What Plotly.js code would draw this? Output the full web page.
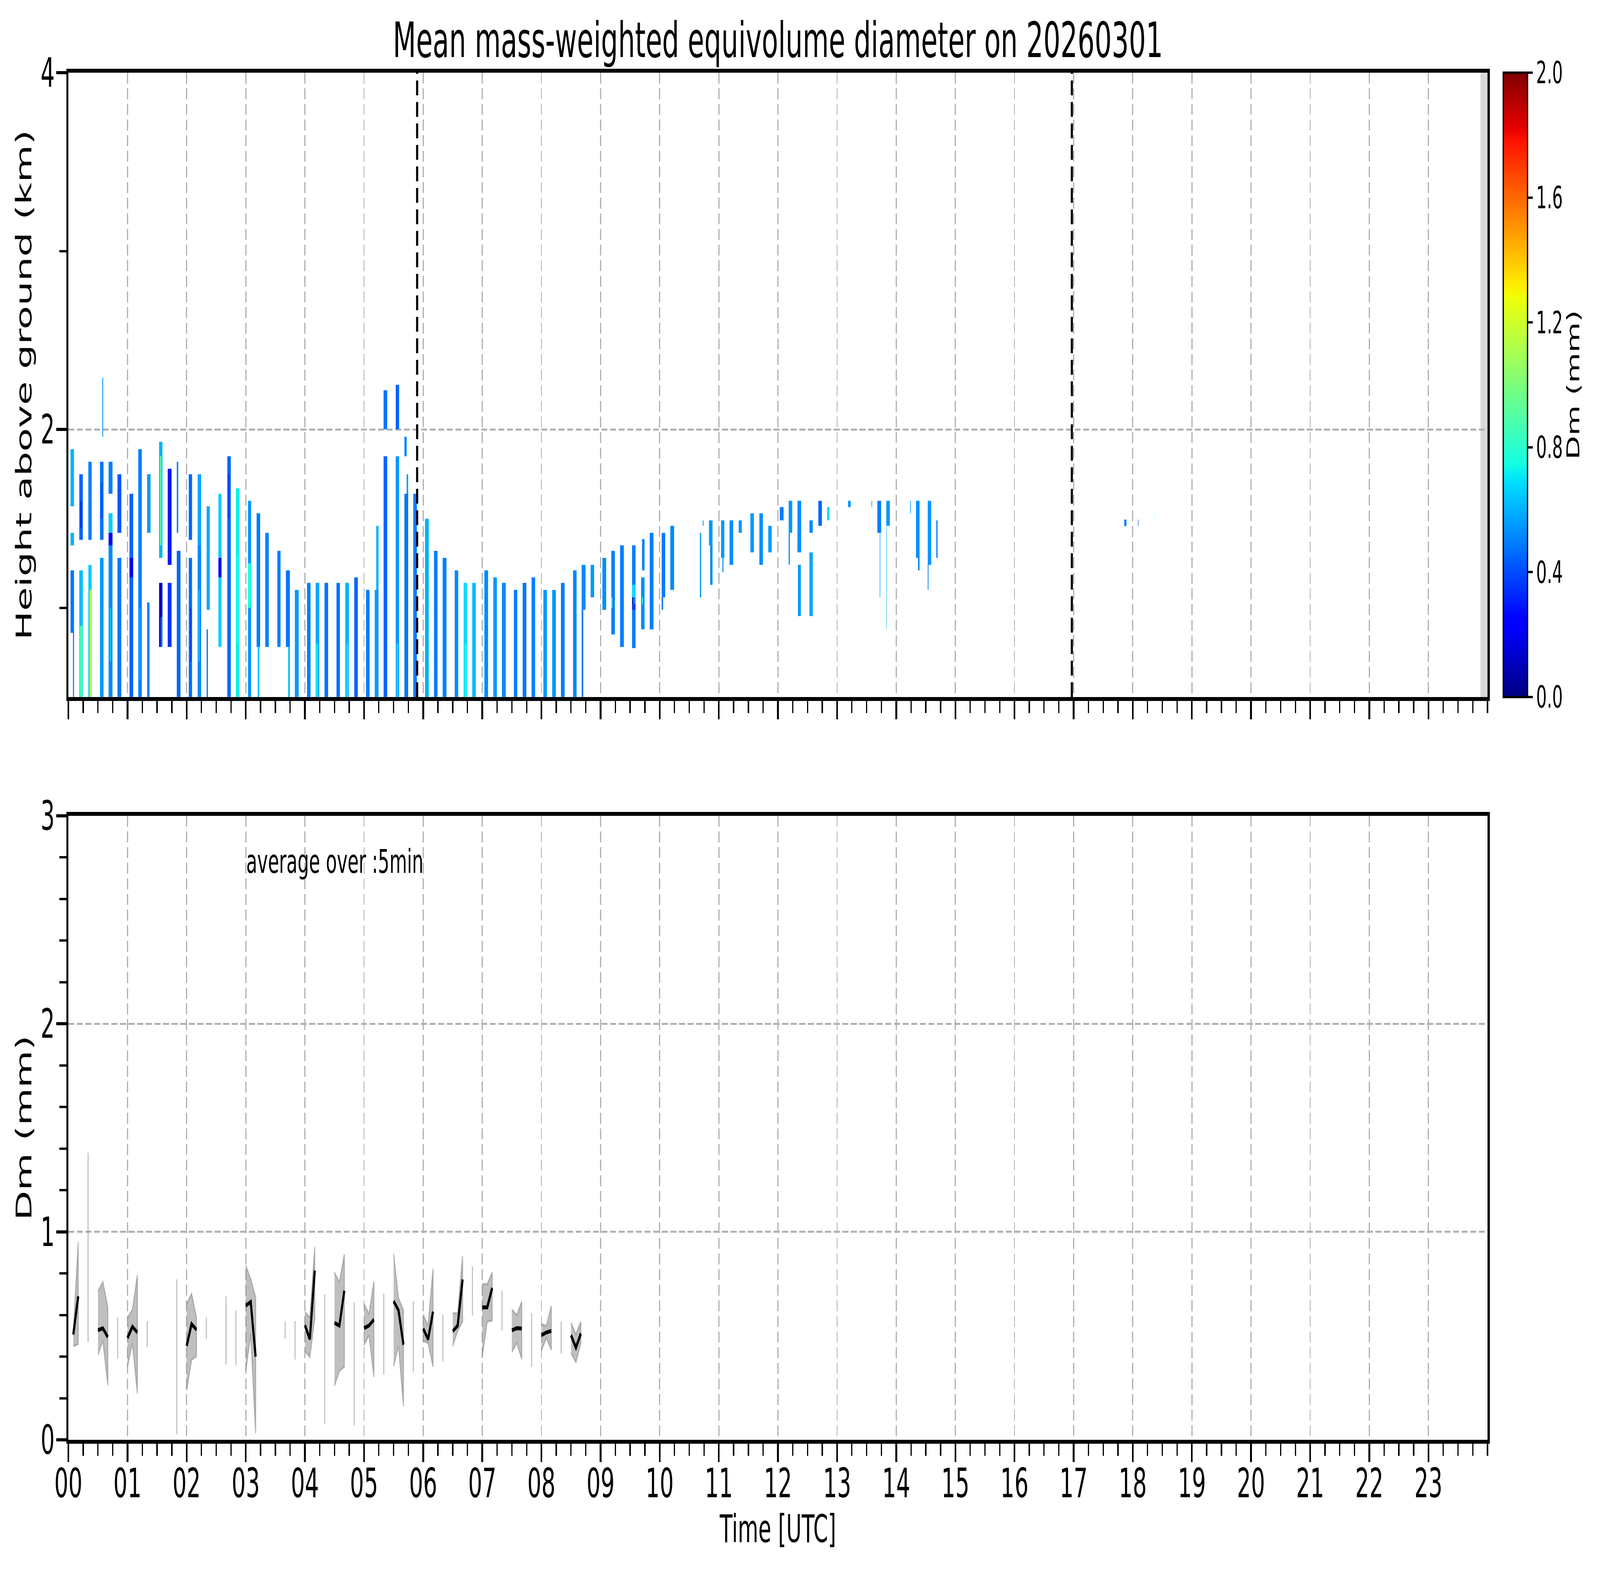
<!DOCTYPE html>
<html>
<head>
<meta charset="utf-8">
<script src="https://cdn.plot.ly/plotly-3.0.1.min.js"></script>
<style>
  html, body { margin: 0; padding: 0; background: #fff; overflow: hidden; }
  #chart { width: 7442px; height: 4031px; transform-origin: 0 0; }
</style>
</head>
<body>
<div id="chart"></div>
<script>
// radar echoes: [start (h UTC), end (h UTC), bottom (km), top (km), Dm (mm)]
const echoes00to03 = [
  [0.037, 0.096, 1.57, 1.89, 0.6], [0.037, 0.096, 1.35, 1.42, 0.6], [0.037, 0.096, 0.86, 1.21, 0.48], [0.078, 0.096, 0.5, 0.86, 0.45],
  [0.186, 0.245, 1.38, 1.75, 0.45], [0.186, 0.245, 0.5, 1.21, 0.62],
  [0.337, 0.394, 1.38, 1.82, 0.5], [0.337, 0.394, 0.5, 1.24, 0.65],
  [0.535, 0.592, 1.38, 1.82, 0.48], [0.535, 0.592, 0.5, 1.28, 0.55], [0.576, 0.59, 1.96, 2.29, 0.55],
  [0.68, 0.745, 1.64, 1.82, 0.5], [0.68, 0.745, 1.42, 1.53, 0.65], [0.68, 0.745, 1.35, 1.42, 0.25], [0.68, 0.745, 0.5, 1.35, 0.52],
  [0.829, 0.894, 1.42, 1.75, 0.42], [0.829, 0.894, 0.5, 1.28, 0.48],
  [1.033, 1.094, 0.5, 1.64, 0.45],
  [1.184, 1.241, 0.5, 1.89, 0.5],
  [1.33, 1.39, 1.42, 1.75, 0.55], [1.33, 1.37, 0.5, 1.03, 0.5],
  [1.535, 1.59, 1.28, 1.93, 0.6], [1.535, 1.59, 0.78, 1.14, 0.1],
  [1.68, 1.745, 1.24, 1.78, 0.3], [1.68, 1.745, 0.78, 1.14, 0.35],
  [1.833, 1.86, 1.42, 1.82, 0.5], [1.833, 1.894, 0.5, 1.32, 0.45],
  [2.037, 2.092, 1.38, 1.75, 0.45], [2.037, 2.092, 0.5, 1.28, 0.47],
  [2.184, 2.245, 1.32, 1.75, 0.58], [2.184, 2.245, 0.5, 1.35, 0.52],
  [2.337, 2.39, 0.99, 1.57, 0.58], [2.337, 2.36, 0.5, 0.88, 0.48],
  [2.537, 2.59, 0.78, 1.64, 0.65],
  [2.686, 2.745, 0.5, 1.85, 0.45],
  [2.833, 2.894, 0.5, 1.67, 0.72],
  [3.035, 3.092, 0.5, 1.6, 0.55]
];

const echoes03to06 = [
  [3.181, 3.242, 0.78, 1.53, 0.5], [3.2, 3.23, 0.5, 0.78, 0.65],
  [3.33, 3.391, 0.78, 1.42, 0.5],
  [3.534, 3.591, 0.78, 1.32, 0.5],
  [3.681, 3.746, 0.78, 1.21, 0.48], [3.718, 3.746, 0.5, 0.78, 0.62],
  [3.83, 3.895, 0.5, 1.1, 0.55],
  [4.036, 4.095, 0.5, 1.14, 0.5],
  [4.181, 4.242, 0.5, 1.14, 0.58],
  [4.33, 4.391, 0.5, 1.14, 0.48],
  [4.534, 4.593, 0.5, 1.14, 0.47],
  [4.683, 4.744, 0.5, 1.14, 0.6],
  [4.836, 4.895, 0.5, 1.17, 0.45],
  [5.032, 5.093, 0.5, 1.1, 0.5],
  [5.181, 5.242, 0.5, 1.1, 0.55], [5.208, 5.242, 1.1, 1.46, 0.6],
  [5.33, 5.391, 2.0, 2.22, 0.48], [5.33, 5.391, 0.5, 1.85, 0.45],
  [5.534, 5.593, 2.0, 2.25, 0.45], [5.534, 5.593, 0.5, 1.85, 0.55],
  [5.683, 5.718, 1.85, 1.96, 0.5], [5.683, 5.746, 0.5, 1.64, 0.48], [5.718, 5.746, 1.64, 1.75, 0.55],
  [5.834, 5.895, 0.5, 1.64, 0.5],
  [6.034, 6.095, 0.5, 1.5, 0.6],
  [6.183, 6.242, 0.5, 1.32, 0.5],
  [6.33, 6.392, 0.5, 1.28, 0.5]
];

const echoes06to10 = [
  [6.535, 6.594, 0.5, 1.21, 0.52],
  [6.682, 6.743, 0.5, 1.14, 0.68],
  [6.829, 6.892, 0.5, 1.14, 0.62],
  [7.035, 7.096, 0.5, 1.21, 0.52],
  [7.186, 7.247, 0.5, 1.17, 0.55],
  [7.335, 7.396, 0.5, 1.14, 0.52],
  [7.535, 7.594, 0.5, 1.1, 0.5],
  [7.684, 7.745, 0.5, 1.14, 0.48],
  [7.833, 7.894, 0.5, 1.17, 0.5],
  [8.033, 8.094, 0.5, 1.1, 0.55],
  [8.182, 8.243, 0.5, 1.1, 0.55],
  [8.331, 8.392, 0.5, 1.14, 0.5],
  [8.535, 8.594, 0.5, 1.21, 0.52],
  [8.68, 8.746, 0.99, 1.24, 0.52], [8.68, 8.71, 0.5, 0.99, 0.5],
  [8.833, 8.892, 1.06, 1.24, 0.55],
  [9.033, 9.094, 0.99, 1.28, 0.53],
  [9.182, 9.243, 0.85, 1.32, 0.5],
  [9.331, 9.392, 0.78, 1.35, 0.5],
  [9.532, 9.593, 0.775, 1.35, 0.5],
  [9.685, 9.746, 0.88, 1.17, 0.52], [9.7, 9.746, 1.21, 1.385, 0.5],
  [9.832, 9.893, 0.88, 1.42, 0.5]
];

const echoes10to19 = [
  [10.032, 10.093, 1.06, 1.42, 0.5], [10.032, 10.058, 0.99, 1.06, 0.48],
  [10.18, 10.242, 1.1, 1.46, 0.52],
  [10.68, 10.7, 1.06, 1.42, 0.55], [10.726, 10.74, 1.46, 1.49, 0.55],
  [10.83, 10.895, 1.35, 1.49, 0.55], [10.855, 10.895, 1.13, 1.35, 0.52],
  [11.038, 11.093, 1.28, 1.49, 0.55], [11.06, 11.08, 1.2, 1.28, 0.55],
  [11.18, 11.242, 1.24, 1.49, 0.53],
  [11.338, 11.389, 1.42, 1.49, 0.55],
  [11.532, 11.593, 1.31, 1.53, 0.55],
  [11.685, 11.746, 1.24, 1.53, 0.53],
  [11.834, 11.895, 1.31, 1.46, 0.55],
  [12.032, 12.093, 1.49, 1.565, 0.5],
  [12.181, 12.242, 1.42, 1.6, 0.55], [12.181, 12.2, 1.24, 1.42, 0.53],
  [12.328, 12.393, 1.31, 1.6, 0.53], [12.338, 12.389, 0.955, 1.24, 0.55],
  [12.532, 12.589, 1.42, 1.49, 0.52], [12.532, 12.589, 0.955, 1.31, 0.57],
  [12.683, 12.745, 1.46, 1.6, 0.45],
  [12.832, 12.873, 1.49, 1.565, 0.68],
  [13.185, 13.23, 1.565, 1.6, 0.55],
  [13.581, 13.592, 1.565, 1.6, 0.55],
  [13.683, 13.745, 1.42, 1.6, 0.5], [13.72, 13.73, 1.06, 1.42, 0.55],
  [13.832, 13.894, 1.46, 1.6, 0.55], [13.832, 13.84, 0.88, 1.46, 0.6],
  [14.234, 14.246, 1.53, 1.6, 0.55],
  [14.334, 14.396, 1.28, 1.6, 0.53], [14.37, 14.396, 1.21, 1.28, 0.52],
  [14.532, 14.59, 1.24, 1.6, 0.55], [14.532, 14.545, 1.1, 1.24, 0.5],
  [14.679, 14.7, 1.28, 1.49, 0.5],
  [17.855, 17.893, 1.457, 1.496, 0.5],
  [18.09, 18.095, 1.457, 1.496, 0.42],
  [18.36, 18.366, 1.494, 1.53, 0.9]
];

// smaller areas with a distinct Dm inside the echoes above
const echoPatches = [
  [0.19, 0.24, 0.5, 0.9, 0.85],
  [0.357, 0.388, 0.5, 1.1, 1.1],
  [0.2, 0.23, 1.45, 1.6, 0.35],
  [0.55, 0.57, 1.5, 1.7, 0.38],
  [0.7, 0.72, 0.7, 1.0, 0.66],
  [1.033, 1.094, 1.17, 1.28, 0.22],
  [1.2, 1.22, 0.6, 1.0, 0.62],
  [1.55, 1.575, 1.35, 1.85, 0.9],
  [1.56, 1.59, 0.78, 0.95, 0.45],
  [2.06, 2.08, 0.7, 1.0, 0.36],
  [2.2, 2.22, 0.7, 1.1, 0.66],
  [2.537, 2.59, 1.17, 1.28, 0.2],
  [2.7, 2.72, 1.5, 1.75, 0.36],
  [2.85, 2.875, 0.8, 1.3, 0.8],
  [3.035, 3.092, 1.0, 1.25, 0.75],
  [4.19, 4.22, 0.5, 0.8, 0.72],
  [4.7, 4.73, 0.5, 0.8, 0.72],
  [5.55, 5.575, 0.5, 0.8, 0.7],
  [6.7, 6.73, 0.5, 0.8, 0.75],
  [9.182, 9.2, 1.0, 1.06, 0.85],
  [9.532, 9.593, 1.06, 1.13, 0.68],
  [9.532, 9.55, 1.02, 1.06, 0.05],
  [9.532, 9.593, 0.99, 1.02, 0.35],
  [9.7, 9.72, 1.02, 1.06, 0.8]
];

// 5 min averages: time (min after 00 UTC), mean, lower, upper Dm (mm)
const avgMinutes = [5, 10, 20, 30, 35, 40, 50, 60, 65, 70, 80, 110, 120, 125, 130, 140, 160, 170, 180, 185, 190,
  220, 230, 240, 245, 250, 260, 270, 275, 280, 290, 300, 305, 310, 320, 330, 335, 340, 350, 360, 365, 370, 380,
  390, 395, 400, 410, 420, 425, 430, 440, 450, 455, 460, 470, 480, 485, 490, 500, 510, 515, 520];
const avgDm = [0.506, 0.69, 0.9, 0.527, 0.536, 0.494, 0.5, 0.489, 0.544, 0.516, 0.5, 0.45, 0.451, 0.557, 0.529, 0.53, 0.5, 0.5, 0.645, 0.663, 0.4,
  0.52, 0.48, 0.551, 0.484, 0.814, 0.5, 0.562, 0.549, 0.717, 0.45, 0.537, 0.549, 0.578, 0.5, 0.667, 0.622, 0.457, 0.5, 0.535, 0.483, 0.616, 0.5,
  0.522, 0.549, 0.771, 0.7, 0.637, 0.637, 0.73, 0.6, 0.526, 0.537, 0.535, 0.48, 0.503, 0.516, 0.524, 0.49, 0.503, 0.443, 0.511];
const lowDm = [0.45, 0.46, 0.47, 0.408, 0.476, 0.263, 0.391, 0.351, 0.465, 0.224, 0.445, 0.027, 0.238, 0.384, 0.402, 0.486, 0.362, 0.359, 0.33, 0.508, 0.032,
  0.486, 0.386, 0.427, 0.397, 0.584, 0.076, 0.26, 0.33, 0.351, 0.07, 0.454, 0.503, 0.303, 0.314, 0.354, 0.45, 0.162, 0.324, 0.476, 0.465, 0.351, 0.375,
  0.451, 0.524, 0.568, 0.598, 0.4, 0.568, 0.573, 0.526, 0.422, 0.465, 0.389, 0.351, 0.429, 0.49, 0.432, 0.416, 0.416, 0.373, 0.465];
const highDm = [0.52, 0.95, 1.38, 0.714, 0.76, 0.638, 0.587, 0.587, 0.627, 0.792, 0.571, 0.771, 0.654, 0.703, 0.587, 0.587, 0.69, 0.622, 0.838, 0.773, 0.686,
  0.568, 0.571, 0.614, 0.589, 0.926, 0.7, 0.805, 0.757, 0.892, 0.66, 0.654, 0.605, 0.762, 0.703, 0.894, 0.681, 0.622, 0.667, 0.602, 0.55, 0.822, 0.6,
  0.609, 0.609, 0.883, 0.835, 0.749, 0.749, 0.805, 0.717, 0.627, 0.6, 0.665, 0.609, 0.557, 0.548, 0.643, 0.568, 0.562, 0.508, 0.568];

const hourLabels = ['00','01','02','03','04','05','06','07','08','09','10','11','12','13','14','15','16','17','18','19','20','21','22','23'];
const markerTimes = [5.898, 16.97];
const noDataStart = 23.88;

// matplotlib "jet"
const jet = [
  [0, 'rgb(0,0,128)'], [0.11, 'rgb(0,0,255)'], [0.125, 'rgb(0,0,255)'], [0.34, 'rgb(0,219,255)'],
  [0.35, 'rgb(0,230,247)'], [0.375, 'rgb(21,255,226)'], [0.64, 'rgb(239,255,8)'], [0.65, 'rgb(247,246,0)'],
  [0.66, 'rgb(255,236,0)'], [0.89, 'rgb(255,19,0)'], [0.91, 'rgb(232,0,0)'], [1, 'rgb(128,0,0)']
];

function edgesOf(blocks, a, b) {
  const s = new Set();
  blocks.forEach(r => { s.add(+r[a].toFixed(4)); s.add(+r[b].toFixed(4)); });
  return Array.from(s).sort((p, q) => p - q);
}

const blocks = [].concat(echoes00to03, echoes03to06, echoes06to10, echoes10to19, echoPatches);
const tEdges = edgesOf(blocks, 0, 1);
const hEdges = edgesOf(blocks, 2, 3);
const zGrid = hEdges.slice(1).map(() => tEdges.slice(1).map(() => null));
blocks.forEach(([t0, t1, h0, h1, dm]) => {
  for (let i = 0; i < tEdges.length - 1; i++) {
    if (tEdges[i] < t0 - 1e-6 || tEdges[i + 1] > t1 + 1e-6) continue;
    for (let j = 0; j < hEdges.length - 1; j++) {
      if (hEdges[j] < h0 - 1e-6 || hEdges[j + 1] > h1 + 1e-6) continue;
      zGrid[j][i] = dm;
    }
  }
});

// split the 5 min series where bins are missing
const lineX = [], lineY = [], bandX = [], bandY = [];
let seg = [];
function flush() {
  if (!seg.length) return;
  seg.forEach(k => { lineX.push(avgMinutes[k] / 60); lineY.push(avgDm[k]); });
  lineX.push(null); lineY.push(null);
  seg.forEach(k => { bandX.push(avgMinutes[k] / 60); bandY.push(highDm[k]); });
  seg.slice().reverse().forEach(k => { bandX.push(avgMinutes[k] / 60); bandY.push(lowDm[k]); });
  bandX.push(null); bandY.push(null);
  seg = [];
}
avgMinutes.forEach((m, k) => {
  if (seg.length && m - avgMinutes[seg[seg.length - 1]] > 5) flush();
  seg.push(k);
});
flush();

// drawn at 7442 x 4031, then stretched onto the window if it is smaller
const W = 7442, H = 4031;
const chart = document.getElementById('chart');
const sx = (window.innerWidth || W) / W, sy = (window.innerHeight || H) / H;
if (Math.abs(sx - 1) > 1e-3 || Math.abs(sy - 1) > 1e-3) chart.style.transform = 'scale(' + sx + ',' + sy + ')';

const font = 'DejaVu Sans';
const xDomain = [318 / W, 6919 / W];
const topDomain = [1 - 1784 / H, 1 - 186 / H];
const botDomain = [1 - 3685 / H, 1 - 2088 / H];
const hours = hourLabels.map((_, i) => i);

const gridStyle = { showgrid: true, gridcolor: '#b0b0b0', gridwidth: 5, griddash: '28px,12px' };
const frame = { showline: true, linewidth: 10, linecolor: '#000', mirror: true, zeroline: false,
  ticks: 'outside', ticklen: 47, tickwidth: 8, tickcolor: '#000',
  tickfont: { family: font, size: 103, color: '#000' } };
const minorTicks = { tickmode: 'linear', tick0: 0, ticks: 'outside', ticklen: 31, tickwidth: 6, tickcolor: '#000', showgrid: false };

const xCommon = Object.assign({}, frame, gridStyle, {
  domain: xDomain, range: [0, 24], tickmode: 'array', tickvals: hours, ticktext: hourLabels,
  ticklabelstandoff: -34,
  minor: Object.assign({ dtick: 0.25 }, minorTicks)
});

const data = [
  {
    type: 'heatmap', x: tEdges, y: hEdges, z: zGrid, xaxis: 'x', yaxis: 'y',
    colorscale: jet, zmin: 0, zmax: 2, zsmooth: false, hoverinfo: 'skip',
    colorbar: {
      x: 6992 / W, xanchor: 'left', xpad: 0, ypad: 0,
      y: (topDomain[0] + topDomain[1]) / 2, yanchor: 'middle',
      thicknessmode: 'pixels', thickness: 113, lenmode: 'pixels', len: 1598,
      outlinewidth: 6, outlinecolor: '#000',
      tickmode: 'array', tickvals: [0, 0.4, 0.8, 1.2, 1.6, 2.0], tickformat: '.1f',
      ticks: 'outside', ticklen: 22, tickwidth: 6, tickcolor: '#000',
      tickfont: { family: font, size: 78, color: '#000' },
      title: { text: 'Dm (mm)', side: 'right', font: { family: font, size: 80, color: '#000' } }
    }
  },
  {
    type: 'scatter', mode: 'lines', x: bandX, y: bandY, xaxis: 'x2', yaxis: 'y2',
    fill: 'toself', fillcolor: 'rgba(128,128,128,0.5)',
    line: { color: 'rgba(128,128,128,0.5)', width: 5 }, hoverinfo: 'skip', showlegend: false
  },
  {
    type: 'scatter', mode: 'lines', x: lineX, y: lineY, xaxis: 'x2', yaxis: 'y2',
    line: { color: '#000', width: 10 }, connectgaps: false, showlegend: false
  }
];

const layout = {
  width: W, height: H,
  margin: { l: 0, r: 0, t: 0, b: 0 },
  paper_bgcolor: '#fff', plot_bgcolor: '#fff',
  font: { family: font, color: '#000' },
  showlegend: false,
  title: {
    text: 'Mean mass-weighted equivolume diameter on 20260301',
    font: { family: font, size: 125, color: '#000' },
    x: (xDomain[0] + xDomain[1]) / 2, xanchor: 'center', xref: 'paper',
    y: 1 - 102 / H, yanchor: 'middle', yref: 'container'
  },
  xaxis: Object.assign({}, xCommon, { anchor: 'y', showticklabels: false }),
  yaxis: Object.assign({}, frame, gridStyle, {
    domain: topDomain, anchor: 'x', range: [0.5, 4],
    tickmode: 'array', tickvals: [2, 4], ticktext: ['2', '4'], ticklabelstandoff: -14,
    minor: Object.assign({ dtick: 1 }, minorTicks),
    title: { text: 'Height above ground (km)', font: { family: font, size: 99, color: '#000' }, standoff: 14 }
  }),
  xaxis2: Object.assign({}, xCommon, {
    anchor: 'y2',
    title: { text: 'Time [UTC]', font: { family: font, size: 98, color: '#000' }, standoff: 12 }
  }),
  yaxis2: Object.assign({}, frame, gridStyle, {
    domain: botDomain, anchor: 'x2', range: [0, 3],
    tickmode: 'array', tickvals: [0, 1, 2, 3], ticktext: ['0', '1', '2', '3'], ticklabelstandoff: -14,
    minor: Object.assign({ dtick: 0.2 }, minorTicks),
    title: { text: 'Dm (mm)', font: { family: font, size: 99, color: '#000' }, standoff: 14 }
  }),
  shapes: [
    { type: 'rect', xref: 'x', yref: 'y domain', x0: noDataStart, x1: 24, y0: 0, y1: 1,
      fillcolor: '#d9d9d9', line: { width: 0 }, layer: 'below' }
  ].concat(markerTimes.map(t => ({
    type: 'line', xref: 'x', yref: 'y domain', x0: t, x1: t, y0: 0, y1: 1,
    line: { color: '#000', width: 10, dash: '38px,17px' }, layer: 'above'
  }))),
  annotations: [
    { xref: 'x2', yref: 'y2', x: 3.0, y: 2.78, xanchor: 'left', yanchor: 'middle', showarrow: false,
      text: 'average over :5min', font: { family: font, size: 84, color: '#000' } }
  ]
};

Plotly.newPlot('chart', data, layout, { displayModeBar: false, staticPlot: true });
</script>
</body>
</html>
